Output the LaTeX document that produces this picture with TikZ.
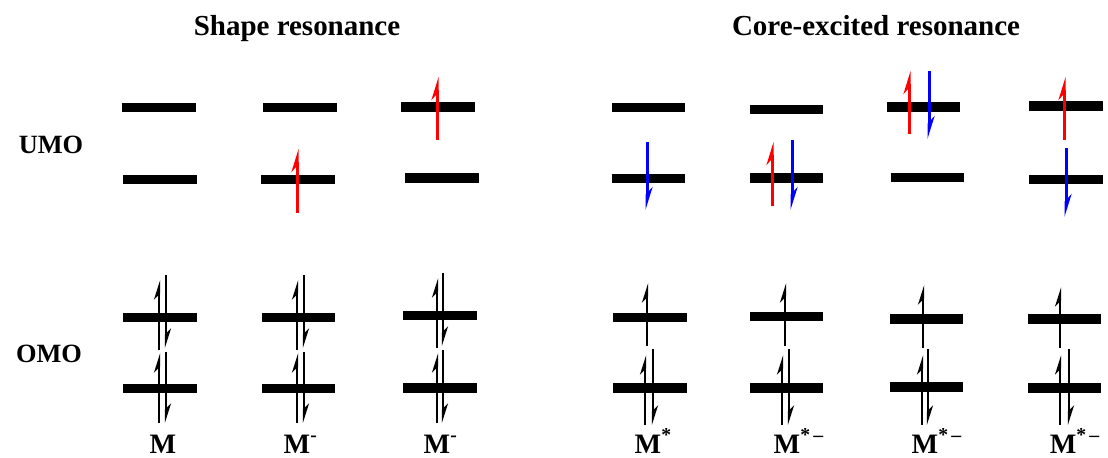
\documentclass[tikz,border=0pt]{standalone}
\usepackage{fontspec}
\setmainfont{Liberation Serif}
\usetikzlibrary{arrows.meta}
\newcommand{\Mion}[1]{\textbf{M\rlap{\textsuperscript{#1}}}}

\begin{document}
\begin{tikzpicture}[x=0.02cm, y=-0.02cm,
  level/.style={line width=0.19cm},
  spinred/.style={-{Stealth[left, length=0.36cm, width=0.22cm, inset=0.12cm]}, line width=0.06cm, red},
  spinblue/.style={-{Stealth[left, length=0.36cm, width=0.22cm, inset=0.12cm]}, line width=0.06cm, blue},
  spinblk/.style={-{Stealth[left, length=0.32cm, width=0.2cm, inset=0.1cm]}, line width=0.045cm, black},
  title/.style={font=\fontsize{16.5}{18}\selectfont\bfseries, anchor=base},
  orb/.style={font=\fontsize{15}{16}\selectfont\bfseries},
  mol/.style={font=\fontsize{16}{18}\selectfont, anchor=base}
]
\useasboundingbox (0,0) rectangle (1108,457);
\node[title] (shape) at (297,35) {Shape resonance};
\node[title] (core) at (876,35) {Core-excited resonance};
\node[orb] (umo) at (51,145) {UMO};
\node[orb] (omo) at (49,354) {OMO};
% M
\draw[level] (122,107.5) -- (196,107.5);
\draw[level] (123,179.5) -- (197,179.5);
\draw[level] (123,317.5) -- (197,317.5);
\draw[level] (123,388.5) -- (197,388.5);
\draw[spinblk] (159,350) -- (159,280);
\draw[spinblk] (166,275) -- (166,348);
\draw[spinblk] (159,423) -- (159,353);
\draw[spinblk] (166,352) -- (166,423);
\node[mol] (m1) at (163,453) {\Mion{}};
% M-
\draw[level] (263,107.5) -- (337,107.5);
\draw[level] (261,179.5) -- (335,179.5);
\draw[level] (262,317.5) -- (335,317.5);
\draw[level] (262,388.5) -- (335,388.5);
\draw[spinred] (297,213) -- (297,149);
\draw[spinblk] (297,350) -- (297,280);
\draw[spinblk] (304,275) -- (304,348);
\draw[spinblk] (297,423) -- (297,353);
\draw[spinblk] (304,352) -- (304,423);
\node[mol] (m2) at (297,453) {\Mion{-}};
% M- (upper level)
\draw[level] (401,107) -- (475,107);
\draw[level] (405,178) -- (479,178);
\draw[level] (403,315.5) -- (477,315.5);
\draw[level] (403,388) -- (477,388);
\draw[spinred] (437,140) -- (437,77);
\draw[spinblk] (437,348) -- (437,278);
\draw[spinblk] (443,273) -- (443,346);
\draw[spinblk] (437,423) -- (437,353);
\draw[spinblk] (443,350) -- (443,423);
\node[mol] (m3) at (437,453) {\Mion{-}};
% M*
\draw[level] (612,107.5) -- (685,107.5);
\draw[level] (612,178.5) -- (685,178.5);
\draw[level] (613,317.5) -- (687,317.5);
\draw[level] (613,388) -- (687,388);
\draw[spinblue] (647,142) -- (647,210);
\draw[spinblk] (647,346) -- (647,283);
\draw[spinblk] (645,425) -- (645,355);
\draw[spinblk] (653,349) -- (653,425);
\node[mol] (m4) at (648,453) {\Mion{*}};
% M*- (same level)
\draw[level] (750,109.5) -- (823,109.5);
\draw[level] (750,178) -- (823,178);
\draw[level] (750,316.5) -- (823,316.5);
\draw[level] (750,388) -- (823,388);
\draw[spinred] (772,206) -- (772,142);
\draw[spinblue] (792,140) -- (792,210);
\draw[spinblk] (785,346) -- (785,283);
\draw[spinblk] (782,425) -- (782,355);
\draw[spinblk] (789,349) -- (789,425);
\node[mol] (m5) at (787,453) {\Mion{*\,–}};
% M*- (upper pair)
\draw[level] (887,107) -- (960,107);
\draw[level] (891,177.5) -- (964,177.5);
\draw[level] (890,319) -- (963,319);
\draw[level] (890,387) -- (963,387);
\draw[spinred] (909,134) -- (909,71);
\draw[spinblue] (929,71) -- (929,139);
\draw[spinblk] (923,348) -- (923,285);
\draw[spinblk] (922,425) -- (922,355);
\draw[spinblk] (928,349) -- (928,425);
\node[mol] (m6) at (925,453) {\Mion{*\,–}};
% M*- (split)
\draw[level] (1029,106) -- (1103,106);
\draw[level] (1029,179.5) -- (1103,179.5);
\draw[level] (1028,319) -- (1101,319);
\draw[level] (1028,388) -- (1101,388);
\draw[spinred] (1064,140) -- (1064,77);
\draw[spinblue] (1066,148) -- (1066,217);
\draw[spinblk] (1060,348) -- (1060,287);
\draw[spinblk] (1060,425) -- (1060,355);
\draw[spinblk] (1069,349) -- (1069,425);
\node[mol] (m7) at (1063,453) {\Mion{*\,–}};
\end{tikzpicture}
\end{document}
